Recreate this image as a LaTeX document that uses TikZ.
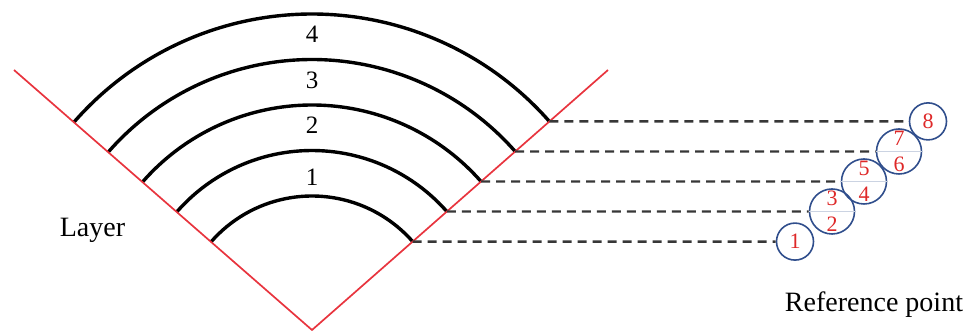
\documentclass[tikz,border=0pt]{standalone}
\usepackage{fontspec}
\setmainfont{Liberation Serif}
\usetikzlibrary{calc}
\definecolor{wedgered}{RGB}{232,52,62}
\definecolor{ringblue}{RGB}{48,78,140}
\definecolor{numred}{RGB}{222,40,40}
\definecolor{dashgray}{RGB}{55,55,55}
\begin{document}
\begin{tikzpicture}[x=1pt, y=1pt,
      wedge/.style={draw=wedgered, line width=1.7pt},
      shell/.style={draw=black, line width=3.4pt},
      link/.style={draw=dashgray, line width=2.4pt, dash pattern=on 9pt off 6pt},
      refpt/.style={circle, draw=ringblue, line width=1.6pt, inner sep=0pt, text=numred, align=center, font=\fontsize{22}{26}\selectfont},
      seam/.style={draw=ringblue!25, line width=0.6pt},
      lbl/.style={inner sep=0pt, font=\fontsize{28}{30}\selectfont},
      num/.style={inner sep=0pt, font=\fontsize{25}{27}\selectfont}]
    \useasboundingbox (0,0) rectangle (969,331);
    \coordinate (apex) at (312,1);
    \coordinate (ltop) at (14,261);
    \coordinate (rtop) at (608,261);
    \coordinate (e1) at ($(apex)+(41.3:134)$);
    \coordinate (e2) at ($(apex)+(41.3:179.5)$);
    \coordinate (e3) at ($(apex)+(41.3:225)$);
    \coordinate (e4) at ($(apex)+(41.3:270.5)$);
    \coordinate (e5) at ($(apex)+(41.3:316)$);
    % layers
    \draw[shell] (e1) arc[start angle=41.3, end angle=138.9, radius=134];
    \draw[shell] (e2) arc[start angle=41.3, end angle=138.9, radius=179.5];
    \draw[shell] (e3) arc[start angle=41.3, end angle=138.9, radius=225];
    \draw[shell] (e4) arc[start angle=41.3, end angle=138.9, radius=270.5];
    \draw[shell] (e5) arc[start angle=41.3, end angle=138.9, radius=316];
    \draw[wedge] (ltop) -- (apex) -- (rtop);
    \node[num] (n1) at (312,154) {1};
    \node[num] (n2) at (312,206) {2};
    \node[num] (n3) at (312,251) {3};
    \node[num] (n4) at (312,297) {4};
    \node[lbl, anchor=base] (layer) at (92.5,94) {Layer};
    % reference points
    \node[refpt, minimum size=37pt] (r1) at (795,89.4) {1};
    \node[refpt, minimum size=45pt] (r23) at (832,119.5) {3\\2};
    \node[refpt, minimum size=45pt] (r45) at (864,149.5) {5\\4};
    \node[refpt, minimum size=45pt] (r67) at (899,179.5) {7\\6};
    \node[refpt, minimum size=37pt] (r8) at (928,209.6) {8};
    \draw[seam] (r23.west) -- (r23.east);
    \draw[seam] (r45.west) -- (r45.east);
    \draw[seam] (r67.west) -- (r67.east);
    \draw[link] (e1) -- (r1);
    \draw[link] (e2) -- (r23);
    \draw[link] (e3) -- (r45);
    \draw[link] (e4) -- (r67);
    \draw[link] (e5) -- (r8);
    \node[lbl, anchor=base] (refname) at (874,19) {Reference point};
  \end{tikzpicture}
\end{document}
